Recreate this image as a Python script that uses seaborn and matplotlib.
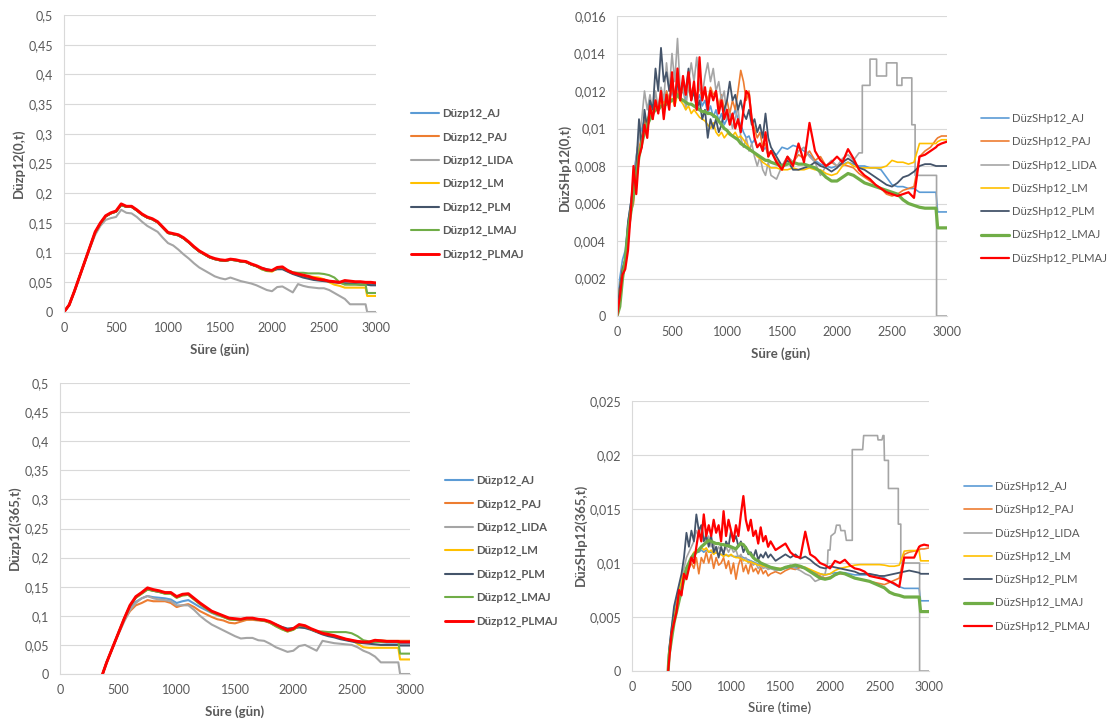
import numpy as np
import matplotlib
matplotlib.use("Agg")
import matplotlib.pyplot as plt
from matplotlib.ticker import FuncFormatter, MultipleLocator
import seaborn as sns

# ---------------- data ----------------
SUFFIXES = ["AJ", "PAJ", "LIDA", "LM", "PLM", "LMAJ", "PLMAJ"]
COLORS = ["#5B9BD5", "#ED7D31", "#A5A5A5", "#FFC000", "#44546A", "#70AD47", "#FF0000"]

# time grids (days)
X_P1 = list(range(0, 2901, 50)) + [2915, 2950, 3000]
X_P2 = list(range(0, 1401, 25)) + list(range(1450, 2901, 50)) + [2915, 2950, 3000]
X_P3 = [365] + list(range(400, 2901, 50)) + [2915, 2950, 3000]
X_P4 = [365, 375] + list(range(400, 1401, 25)) + list(range(1450, 2901, 50)) + [2915, 2950, 3000]

# ---- Panel 1: Düzp12(0,t)
P1_AJ = [0, 0.012, 0.034, 0.06, 0.085, 0.11, 0.134, 0.149, 0.161, 0.166,
         0.169, 0.18, 0.177, 0.177, 0.171, 0.164, 0.159, 0.156, 0.151, 0.142,
         0.133, 0.131, 0.129, 0.124, 0.117, 0.109, 0.102, 0.097, 0.092, 0.089,
         0.087, 0.086, 0.088, 0.087, 0.085, 0.084, 0.08, 0.077, 0.073, 0.07,
         0.069, 0.073, 0.074, 0.069, 0.065, 0.062, 0.06, 0.058, 0.056, 0.054,
         0.053, 0.052, 0.051, 0.05, 0.05, 0.049, 0.049, 0.048, 0.048,
         0.047, 0.047, 0.047]
P1_PAJ = [0, 0.012, 0.035, 0.06, 0.084, 0.109, 0.134, 0.149, 0.161, 0.166,
          0.169, 0.181, 0.177, 0.177, 0.171, 0.164, 0.159, 0.156, 0.151, 0.142,
          0.133, 0.131, 0.129, 0.124, 0.117, 0.109, 0.102, 0.097, 0.092, 0.089,
          0.087, 0.086, 0.088, 0.087, 0.085, 0.084, 0.08, 0.077, 0.073, 0.07,
          0.069, 0.074, 0.075, 0.069, 0.065, 0.063, 0.061, 0.059, 0.056, 0.054,
          0.053, 0.052, 0.051, 0.05, 0.052, 0.051, 0.05, 0.05, 0.049,
          0.049, 0.049, 0.048]
P1_LIDA = [0, 0.012, 0.035, 0.06, 0.085, 0.108, 0.13, 0.145, 0.155, 0.158,
           0.16, 0.172, 0.167, 0.166, 0.16, 0.152, 0.145, 0.14, 0.135, 0.125,
           0.116, 0.112, 0.105, 0.097, 0.09, 0.082, 0.075, 0.07, 0.065, 0.06,
           0.057, 0.055, 0.058, 0.055, 0.052, 0.05, 0.048, 0.045, 0.041, 0.037,
           0.035, 0.042, 0.043, 0.038, 0.033, 0.047, 0.044, 0.042, 0.041, 0.04,
           0.04, 0.037, 0.032, 0.027, 0.022, 0.013, 0.013, 0.013, 0.013,
           0, 0, 0]
P1_LM = [0, 0.012, 0.035, 0.06, 0.085, 0.11, 0.134, 0.149, 0.161, 0.166,
         0.169, 0.18, 0.177, 0.177, 0.171, 0.164, 0.159, 0.156, 0.151, 0.142,
         0.133, 0.131, 0.129, 0.124, 0.117, 0.109, 0.102, 0.097, 0.092, 0.089,
         0.087, 0.086, 0.088, 0.087, 0.085, 0.084, 0.08, 0.077, 0.072, 0.069,
         0.068, 0.073, 0.074, 0.069, 0.065, 0.063, 0.062, 0.06, 0.059, 0.058,
         0.055, 0.05, 0.046, 0.044, 0.041, 0.041, 0.041, 0.041, 0.041,
         0.027, 0.027, 0.027]
P1_PLM = [0, 0.012, 0.035, 0.06, 0.085, 0.11, 0.134, 0.149, 0.161, 0.166,
          0.169, 0.18, 0.177, 0.177, 0.171, 0.164, 0.159, 0.156, 0.151, 0.142,
          0.133, 0.131, 0.129, 0.124, 0.117, 0.109, 0.102, 0.097, 0.092, 0.089,
          0.087, 0.086, 0.088, 0.087, 0.085, 0.084, 0.08, 0.077, 0.074, 0.072,
          0.07, 0.072, 0.072, 0.068, 0.064, 0.061, 0.058, 0.056, 0.054, 0.053,
          0.052, 0.051, 0.05, 0.049, 0.048, 0.047, 0.047, 0.046, 0.046,
          0.046, 0.045, 0.045]
P1_LMAJ = [0, 0.012, 0.035, 0.06, 0.085, 0.11, 0.134, 0.149, 0.161, 0.166,
           0.169, 0.18, 0.177, 0.177, 0.171, 0.164, 0.159, 0.156, 0.151, 0.142,
           0.133, 0.131, 0.129, 0.124, 0.117, 0.109, 0.102, 0.097, 0.092, 0.089,
           0.087, 0.086, 0.088, 0.087, 0.085, 0.084, 0.08, 0.077, 0.072, 0.069,
           0.069, 0.074, 0.075, 0.07, 0.067, 0.066, 0.066, 0.065, 0.065, 0.065,
           0.064, 0.062, 0.058, 0.05, 0.046, 0.046, 0.046, 0.046, 0.046,
           0.032, 0.032, 0.032]
P1_PLMAJ = [0, 0.012, 0.035, 0.06, 0.085, 0.11, 0.135, 0.15, 0.162, 0.167,
            0.17, 0.182, 0.178, 0.178, 0.172, 0.165, 0.16, 0.157, 0.152, 0.143,
            0.134, 0.132, 0.13, 0.125, 0.118, 0.11, 0.103, 0.098, 0.093, 0.09,
            0.088, 0.087, 0.089, 0.088, 0.086, 0.085, 0.081, 0.078, 0.074, 0.071,
            0.07, 0.075, 0.076, 0.07, 0.066, 0.064, 0.062, 0.06, 0.057, 0.055,
            0.054, 0.052, 0.051, 0.05, 0.053, 0.052, 0.051, 0.051, 0.05,
            0.05, 0.05, 0.049]

# ---- Panel 2: DüzSHp12(0,t)  (values in thousandths)
P2_AJ = [0, 2.0, 3.0, 3.5, 5.0, 6.0, 7.5, 8.5,
         9.5, 10.0, 10.5, 10.2, 11.0, 10.8, 11.5, 11.0,
         11.8, 11.2, 12.0, 11.5, 12.0, 11.5, 12.2, 11.8,
         12.0, 11.5, 12.2, 11.6, 12.0, 11.4, 11.8, 11.2,
         11.5, 10.8, 11.2, 10.6, 11.0, 10.4, 10.8, 10.2,
         10.5, 10.8, 10.6, 11.0, 10.5, 10.2, 9.8, 9.5,
         9.6, 9.2, 9.4, 9.0, 9.2, 8.8, 9.0, 8.6,
         8.8,
         8.6, 9.0, 8.9, 9.1, 9.0, 8.8, 8.6, 8.3, 8.1, 8.0,
         7.9, 8.0, 8.1, 8.2, 8.1, 8.0, 8.0, 7.9, 7.9, 7.8,
         7.4, 7.0, 6.9, 6.9, 6.8, 6.8, 6.6, 6.6, 6.6, 6.6,
         5.55, 5.55, 5.55]
P2_PAJ = [0, 1.5, 2.5, 3.0, 4.5, 5.5, 6.0, 7.5,
          9.0, 9.5, 10.5, 10.0, 11.0, 10.5, 11.5, 11.0,
          12.0, 11.2, 12.0, 11.5, 12.2, 11.6, 12.0, 11.5,
          12.3, 11.8, 12.2, 11.5, 12.0, 11.8, 12.2, 11.6,
          12.0, 11.5, 12.2, 11.8, 12.0, 11.2, 11.8, 11.0,
          11.5, 10.8, 11.5, 11.0, 12.0, 13.1, 12.5, 11.5,
          12.0, 10.5, 10.0, 9.5, 9.8, 9.0, 9.2, 8.5,
          8.8,
          8.3, 8.0, 8.5, 8.2, 8.6, 8.4, 8.8, 8.3, 8.5, 8.0,
          8.2, 8.0, 8.1, 8.0, 7.9, 7.6, 7.4, 7.2, 7.0, 6.8,
          6.5, 6.4, 6.5, 6.7, 6.8, 6.9, 8.5, 8.8, 9.0, 9.4,
          9.5, 9.6, 9.6]
P2_LIDA_HEAD = [0, 1.5, 2.5, 3.0, 4.5, 6.0, 7.0, 8.5,
                9.5, 10.5, 12.0, 11.0, 11.8, 10.8, 12.0, 11.0,
                12.2, 11.5, 13.5, 12.0, 14.0, 12.5, 14.8, 12.0,
                12.5, 11.0, 12.5, 13.5, 12.5, 13.8, 12.2, 11.8,
                12.8, 13.5, 12.5, 13.2, 12.0, 12.5, 11.5, 12.0,
                10.5, 10.8, 10.0, 10.5, 11.2, 9.5, 9.0, 9.5,
                8.8, 9.2, 8.5, 8.0, 8.5, 7.8, 7.5, 8.2,
                7.5,
                7.3, 8.0, 8.5, 8.2, 8.8, 9.0, 8.5, 8.2, 7.5, 8.0,
                8.3, 8.0, 8.4, 8.6, 8.3, 8.7]
P2_LIDA_TAIL_X = [2230, 2230, 2300, 2300, 2360, 2360, 2450, 2450, 2545, 2545,
                  2590, 2590, 2680, 2680, 2710, 2710, 2905, 2905, 3000]
P2_LIDA_TAIL = [8.7, 12.3, 12.3, 13.7, 13.7, 12.8, 12.8, 13.5, 13.5, 12.3,
                12.3, 12.7, 12.7, 10.2, 10.2, 7.5, 7.5, 0, 0]
P2_LM = [0, 1.5, 2.5, 3.0, 4.5, 5.5, 6.5, 7.5,
         8.5, 9.5, 10.0, 10.5, 10.8, 11.0, 11.2, 11.0,
         11.5, 11.2, 11.5, 11.3, 11.6, 11.2, 11.8, 11.5,
         11.3, 11.0, 11.2, 10.8, 11.0, 10.8, 10.6, 10.5,
         10.4, 10.2, 10.0, 10.3, 9.8, 9.6, 9.8, 9.5,
         9.7, 9.8, 9.6, 9.8, 9.5, 9.6, 9.4, 9.2,
         9.0, 8.8, 8.7, 8.5, 8.4, 8.2, 8.1, 8.0,
         7.9,
         7.9, 7.8, 7.8, 7.9, 7.8, 7.8, 7.9, 7.8, 7.8, 7.6,
         7.5, 7.6, 8.0, 8.2, 8.0, 7.9, 7.9, 7.9, 7.9, 7.9,
         8.0, 8.3, 8.2, 8.2, 8.1, 8.2, 9.2, 9.2, 9.2, 9.2,
         9.3, 9.4, 9.4]
P2_PLM = [0, 1.5, 2.5, 3.0, 5.0, 6.0, 7.0, 8.0,
          10.5, 9.0, 11.0, 10.0, 11.5, 11.0, 13.2, 12.0,
          14.3, 12.5, 13.0, 12.0, 12.8, 11.5, 12.5, 11.8,
          12.5, 12.0, 13.2, 11.5, 12.0, 11.0, 11.5, 10.5,
          11.0, 9.5, 10.5, 10.0, 10.5, 9.8, 10.2, 11.0,
          11.5, 12.5, 11.5, 11.8, 11.0, 11.5, 10.8, 10.5,
          11.0, 10.2, 10.5, 9.8, 10.2, 9.5, 10.8, 9.5,
          9.0,
          8.5, 8.0, 8.3, 7.8, 7.8, 7.9, 8.0, 8.2, 8.0, 7.9,
          7.7, 7.9, 8.2, 8.4, 8.2, 7.9, 7.8, 7.6, 7.4, 7.2,
          7.0, 6.9, 7.1, 7.4, 7.5, 7.7, 8.0, 8.1, 8.1, 8.0,
          8.0, 8.0, 8.0]
P2_LMAJ = [0, 0.5, 2.0, 3.0, 4.5, 5.5, 6.5, 7.5,
           8.5, 9.2, 9.8, 10.2, 10.5, 10.8, 11.0, 11.0,
           11.2, 11.2, 11.3, 11.4, 11.5, 11.6, 11.8, 11.6,
           11.5, 11.4, 11.3, 11.3, 11.2, 11.1, 11.0, 10.9,
           10.9, 10.8, 10.8, 10.7, 10.6, 10.4, 10.2, 10.0,
           9.9, 9.7, 9.6, 9.5, 9.4, 9.2, 9.1, 9.0,
           8.9, 8.8, 8.7, 8.6, 8.5, 8.4, 8.3, 8.3,
           8.2,
           8.1, 8.0, 8.1, 8.2, 8.1, 8.1, 8.0, 7.9, 7.7, 7.4,
           7.2, 7.2, 7.4, 7.6, 7.5, 7.3, 7.1, 7.0, 6.9, 6.8,
           6.7, 6.6, 6.5, 6.2, 6.0, 5.9, 5.8, 5.75, 5.75, 5.75,
           4.7, 4.7, 4.7]
P2_PLMAJ = [0, 1.0, 2.2, 2.5, 3.5, 5.5, 8.0, 6.5,
            8.5, 9.0, 10.2, 9.5, 11.2, 10.5, 11.5, 10.8,
            12.0, 10.5, 11.8, 11.0, 13.0, 11.2, 13.2, 11.5,
            12.8, 11.8, 13.0, 11.5, 12.5, 11.0, 13.8, 11.5,
            12.2, 11.0, 12.0, 11.5, 12.0, 10.8, 11.5, 10.5,
            11.0, 10.2, 10.8, 10.0, 10.5, 9.8, 11.0, 12.0,
            11.8, 10.5, 9.5, 9.0, 9.2, 8.8, 9.8, 8.5,
            8.8,
            8.2, 7.8, 8.5, 8.0, 9.2, 8.2, 10.3, 8.8, 8.3, 8.0,
            8.2, 8.5, 8.2, 8.9, 8.4, 7.8, 7.5, 7.3, 7.0, 6.8,
            6.6, 6.5, 6.4, 6.5, 6.6, 6.3, 8.5, 8.6, 8.8, 9.0,
            9.1, 9.2, 9.3]

# ---- Panel 3: Düzp12(365,t)
P3_AJ = [0,
         0.02, 0.045, 0.07, 0.093, 0.112, 0.124, 0.13, 0.134, 0.132, 0.131,
         0.13, 0.128, 0.122, 0.125, 0.127, 0.121, 0.115, 0.11, 0.105, 0.101,
         0.098, 0.094, 0.093, 0.093, 0.095, 0.095, 0.093, 0.092, 0.089, 0.084,
         0.079, 0.075, 0.078, 0.083, 0.082, 0.077, 0.073, 0.069, 0.067, 0.065,
         0.062, 0.059, 0.057, 0.056, 0.055, 0.054, 0.055, 0.055, 0.054, 0.054,
         0.054,
         0.053, 0.053, 0.053]
P3_PAJ = [0,
          0.02, 0.045, 0.07, 0.092, 0.108, 0.118, 0.122, 0.127, 0.125, 0.125,
          0.125, 0.122, 0.115, 0.118, 0.12, 0.115, 0.108, 0.103, 0.098, 0.094,
          0.092, 0.088, 0.087, 0.09, 0.093, 0.093, 0.092, 0.091, 0.088, 0.083,
          0.078, 0.074, 0.077, 0.082, 0.081, 0.077, 0.073, 0.069, 0.067, 0.065,
          0.062, 0.059, 0.057, 0.056, 0.055, 0.055, 0.058, 0.058, 0.057, 0.057,
          0.057,
          0.057, 0.057, 0.057]
P3_LIDA = [0,
           0.02, 0.045, 0.068, 0.09, 0.11, 0.122, 0.13, 0.134, 0.13, 0.128,
           0.127, 0.125, 0.118, 0.118, 0.118, 0.11, 0.1, 0.092, 0.085, 0.08,
           0.075, 0.07, 0.065, 0.061, 0.062, 0.062, 0.058, 0.057, 0.052, 0.046,
           0.042, 0.038, 0.04, 0.048, 0.05, 0.045, 0.04, 0.057, 0.055, 0.053,
           0.052, 0.051, 0.05, 0.046, 0.04, 0.036, 0.03, 0.02, 0.02, 0.02,
           0.02,
           0, 0, 0]
P3_LM = [0,
         0.02, 0.045, 0.07, 0.095, 0.117, 0.131, 0.138, 0.145, 0.143, 0.141,
         0.138, 0.138, 0.131, 0.135, 0.136, 0.128, 0.12, 0.113, 0.106, 0.102,
         0.098, 0.094, 0.093, 0.093, 0.095, 0.095, 0.093, 0.092, 0.088, 0.082,
         0.077, 0.073, 0.076, 0.083, 0.082, 0.077, 0.073, 0.07, 0.068, 0.065,
         0.062, 0.06, 0.058, 0.052, 0.046, 0.045, 0.045, 0.045, 0.045, 0.045,
         0.045,
         0.025, 0.025, 0.025]
P3_PLM = [0,
          0.02, 0.045, 0.07, 0.095, 0.117, 0.132, 0.139, 0.146, 0.143, 0.141,
          0.139, 0.139, 0.132, 0.136, 0.137, 0.129, 0.121, 0.114, 0.107, 0.103,
          0.099, 0.095, 0.094, 0.094, 0.096, 0.095, 0.093, 0.092, 0.089, 0.085,
          0.081, 0.078, 0.079, 0.08, 0.079, 0.076, 0.072, 0.068, 0.065, 0.063,
          0.06, 0.058, 0.056, 0.054, 0.053, 0.052, 0.051, 0.05, 0.05, 0.05,
          0.05,
          0.049, 0.049, 0.049]
P3_LMAJ = [0,
           0.02, 0.045, 0.07, 0.095, 0.117, 0.131, 0.138, 0.145, 0.143, 0.141,
           0.138, 0.138, 0.131, 0.135, 0.136, 0.128, 0.12, 0.113, 0.106, 0.102,
           0.098, 0.094, 0.093, 0.093, 0.095, 0.095, 0.093, 0.092, 0.088, 0.082,
           0.077, 0.073, 0.076, 0.083, 0.082, 0.077, 0.073, 0.073, 0.072, 0.072,
           0.072, 0.072, 0.07, 0.065, 0.058, 0.056, 0.055, 0.055, 0.055, 0.055,
           0.055,
           0.035, 0.035, 0.035]
P3_PLMAJ = [0,
            0.02, 0.045, 0.07, 0.095, 0.118, 0.133, 0.14, 0.148, 0.145, 0.143,
            0.14, 0.14, 0.133, 0.137, 0.138, 0.13, 0.122, 0.115, 0.108, 0.104,
            0.1, 0.096, 0.095, 0.094, 0.096, 0.096, 0.094, 0.093, 0.09, 0.085,
            0.08, 0.075, 0.078, 0.085, 0.083, 0.078, 0.074, 0.07, 0.068, 0.066,
            0.063, 0.06, 0.058, 0.056, 0.055, 0.055, 0.058, 0.057, 0.056, 0.056,
            0.056,
            0.055, 0.055, 0.055]

# ---- Panel 4: DüzSHp12(365,t)  (values in thousandths)
P4_AJ = [0, 2.0,
         4.0, 5.5, 6.5, 7.5, 8.5, 9.0, 9.5, 10.0,
         10.5, 10.5, 11.0, 11.0, 11.2, 11.0, 11.2, 11.0,
         11.0, 10.9, 11.0, 10.8, 10.8, 10.8, 10.7, 10.7,
         10.7, 10.6, 10.6, 10.6, 10.6, 10.5, 10.4, 10.3,
         10.2, 10.1, 10.0, 9.9, 9.8, 9.7, 9.6, 9.5,
         9.5,
         9.4, 9.4, 9.5, 9.6, 9.6, 9.6, 9.5, 9.3, 9.1, 9.0,
         8.9, 9.0, 9.1, 9.1, 9.1, 9.0, 8.9, 8.9, 8.9, 8.9,
         8.9, 8.8, 8.6, 8.3, 8.0, 7.8, 7.65, 7.65, 7.65, 7.65,
         6.5, 6.5, 6.5]
P4_PAJ = [0, 1.5,
          3.5, 5.0, 6.0, 7.5, 8.0, 8.5, 9.0, 9.5,
          10.0, 9.5, 10.5, 9.0, 10.5, 10.0, 11.0, 10.0,
          10.8, 9.5, 10.5, 9.8, 10.0, 10.5, 9.5, 10.2,
          9.0, 10.0, 8.5, 9.8, 10.5, 9.2, 9.8, 9.0,
          10.0, 9.2, 9.5, 9.0, 9.6, 9.0, 9.3, 8.8,
          9.0,
          9.2, 9.0, 9.3, 9.5, 9.4, 9.6, 9.5, 9.2, 9.0, 8.8,
          8.6, 8.7, 8.9, 9.0, 9.0, 8.8, 8.6, 8.5, 8.4, 8.3,
          8.2, 8.1, 8.0, 8.2, 8.4, 8.6, 10.8, 11.0, 11.1, 11.2,
          11.3, 11.3, 11.4]
P4_LIDA_HEAD = [0, 1.5,
                3.5, 5.0, 6.0, 7.5, 8.5, 9.5, 10.5, 11.0,
                11.5, 12.0, 13.0, 12.5, 13.5, 12.5, 12.0, 12.5,
                11.5, 11.8, 11.0, 11.5, 11.2, 11.0, 11.5, 11.0,
                11.5, 11.0, 11.2, 10.5, 10.8, 10.2, 10.5, 10.0,
                10.2, 9.8, 10.0, 9.5, 9.8, 9.5, 9.6, 9.4,
                9.5,
                9.3, 9.4, 9.6, 9.8, 9.5, 9.3, 9.0, 8.8, 8.3, 8.5,
                9.0]
P4_LIDA_TAIL_X = [1975, 1980, 2000, 2010, 2050, 2065, 2100, 2110, 2150, 2165,
                  2225, 2225, 2330, 2340, 2480, 2485, 2525, 2535, 2545, 2550,
                  2590, 2590, 2690, 2690, 2715, 2715, 2905, 2905, 3000]
P4_LIDA_TAIL = [10.0, 11.2, 11.2, 12.5, 12.8, 13.5, 13.5, 13.0, 13.0, 12.1,
                12.1, 20.5, 20.5, 21.8, 21.8, 21.4, 21.4, 21.8, 21.8, 19.5,
                19.5, 16.9, 16.9, 13.6, 13.6, 10.0, 10.0, 0, 0]
P4_LM = [0, 1.5,
         3.5, 5.0, 6.0, 7.5, 8.5, 9.0, 9.5, 10.0,
         10.5, 11.0, 11.0, 11.3, 11.5, 11.2, 11.4, 11.0,
         11.2, 10.8, 11.0, 10.8, 10.8, 10.6, 10.8, 10.6,
         10.8, 10.6, 10.5, 10.5, 10.4, 10.3, 10.2, 10.1,
         10.1, 10.0, 9.9, 9.8, 9.8, 9.7, 9.7, 9.6,
         9.6,
         9.5, 9.5, 9.6, 9.7, 9.8, 9.7, 9.6, 9.4, 9.2, 9.0,
         8.9, 9.0, 9.3, 9.5, 9.6, 9.7, 9.8, 9.85, 9.85, 9.85,
         9.85, 9.85, 9.8, 9.7, 9.7, 9.8, 11.1, 11.15, 11.15, 11.15,
         10.2, 10.2, 10.2]
P4_PLM = [0, 2.0,
          4.0, 6.0, 7.0, 8.0, 9.0, 10.5, 12.8, 11.5,
          13.0, 12.0, 14.5, 13.0, 13.5, 12.0, 12.5, 11.5,
          12.5, 11.0, 11.5, 10.5, 11.5, 10.8, 12.0, 11.5,
          13.0, 12.0, 12.5, 11.5, 12.0, 11.0, 11.5, 10.8,
          11.0, 10.5, 11.2, 10.3, 10.8, 10.5, 11.0, 10.5,
          10.8,
          10.2, 10.5, 10.8, 10.5, 10.8, 10.4, 10.6, 10.3, 9.9, 9.6,
          9.5, 9.7, 9.6, 9.5, 9.4, 9.3, 9.2, 9.0, 9.0, 9.0,
          8.9, 8.8, 8.8, 8.9, 9.0, 9.1, 9.2, 9.3, 9.2, 9.1,
          9.0, 9.0, 9.0]
P4_LMAJ = [0, 1.5,
           3.0, 4.5, 5.5, 6.5, 7.5, 8.5, 9.5, 10.0,
           10.5, 10.8, 11.0, 11.2, 11.5, 11.7, 11.9, 12.1,
           12.0, 11.9, 11.8, 11.8, 11.7, 11.7, 11.6, 11.6,
           11.5, 11.4, 11.3, 11.6, 11.8, 11.7, 11.4, 11.0,
           10.8, 10.5, 10.3, 10.2, 10.0, 9.9, 9.8, 9.7,
           9.6,
           9.5, 9.4, 9.6, 9.7, 9.8, 9.7, 9.5, 9.2, 8.9, 8.6,
           8.5, 8.6, 8.9, 9.1, 9.0, 8.8, 8.6, 8.5, 8.4, 8.3,
           8.1, 7.9, 7.7, 7.3, 7.1, 7.0, 6.85, 6.85, 6.85, 6.85,
           5.5, 5.5, 5.5]
P4_PLMAJ = [0, 1.0,
            3.5, 4.5, 5.5, 7.5, 7.0, 9.0, 8.5, 9.5,
            10.5, 10.0, 11.5, 13.0, 12.0, 14.5, 12.5, 13.5,
            12.5, 14.0, 12.8, 13.5, 12.0, 14.8, 12.5, 14.0,
            13.0, 12.0, 13.5, 12.5, 14.5, 16.2, 14.0, 13.0,
            14.0, 12.5, 13.0, 11.8, 13.3, 12.0, 12.5, 11.5,
            12.0,
            11.2, 11.5, 11.8, 11.0, 10.6, 10.5, 12.9, 10.8, 10.5, 10.0,
            9.8, 9.5, 10.2, 10.0, 10.3, 9.8, 9.5, 9.4, 9.2, 8.8,
            8.7, 8.6, 8.5, 8.3, 8.1, 7.8, 10.5, 10.5, 10.5, 11.5,
            11.6, 11.7, 11.6]

# ---------------- style ----------------
sns.set_theme(style="white")
plt.rcParams["font.family"] = ["Lato", "DejaVu Sans"]
TXT = "#595959"
GRID = "#D9D9D9"
LEG_FS = 8.2

fig = plt.figure(figsize=(11.11, 7.22), dpi=100)
fig.patch.set_facecolor("white")
W, H = 1111.0, 722.0


def fx(px):
    return px / W


def fy(py):
    return 1 - py / H


def comma_fmt(v, pos):
    return f"{v:.6g}".replace(".", ",")


def make_panel(rect, xs_list, ys_list, scale, ymax, ystep, prefix, widths,
               ylab, ylab_xy, xlab, xlab_xy, leg_xy, leg_bold, xlab_weight="bold"):
    ax = fig.add_axes(rect)
    ax.set_facecolor("white")
    for xs, ys, c, lw, suf in zip(xs_list, ys_list, COLORS, widths, SUFFIXES):
        yv = np.asarray(ys, dtype=float) * scale
        sns.lineplot(x=np.asarray(xs, dtype=float), y=yv, ax=ax, color=c,
                     linewidth=lw, label=prefix + suf, estimator=None,
                     sort=False, legend=False)
    ax.set_xlim(0, 3000)
    ax.set_ylim(0, ymax)
    ax.xaxis.set_major_locator(MultipleLocator(500))
    ax.yaxis.set_major_locator(MultipleLocator(ystep))
    ax.yaxis.set_major_formatter(FuncFormatter(comma_fmt))
    ax.xaxis.set_major_formatter(FuncFormatter(comma_fmt))
    ax.grid(axis="y", color=GRID, linewidth=0.8)
    ax.grid(axis="x", visible=False)
    ax.set_axisbelow(True)
    for s in ["top", "right"]:
        ax.spines[s].set_visible(False)
    for s in ["left", "bottom"]:
        ax.spines[s].set_color(GRID)
        ax.spines[s].set_linewidth(0.8)
    ax.tick_params(axis="both", length=0, colors=TXT, labelsize=9)
    ax.tick_params(axis="y", pad=8)
    ax.tick_params(axis="x", pad=7)
    ax.set_xlabel("")
    ax.set_ylabel("")
    fig.text(fx(ylab_xy[0]), fy(ylab_xy[1]), ylab, rotation=90, ha="center",
             va="center", fontsize=9.5, fontweight="bold", color=TXT)
    fig.text(fx(xlab_xy[0]), fy(xlab_xy[1]), xlab, ha="center", va="center",
             fontsize=9.5, fontweight=xlab_weight, color=TXT)
    handles, labels = ax.get_legend_handles_labels()
    leg = ax.legend(handles, labels, loc="upper left",
                    bbox_to_anchor=(fx(leg_xy[0]), fy(leg_xy[1])),
                    bbox_transform=fig.transFigure, frameon=False,
                    fontsize=LEG_FS, handlelength=2.45, handletextpad=0.26,
                    labelspacing=1.08, borderpad=0, borderaxespad=0)
    for t in leg.get_texts():
        t.set_color(TXT)
        if leg_bold:
            t.set_fontweight("bold")
    return ax


X2_LIDA = [x for x in X_P2 if x <= 2200] + P2_LIDA_TAIL_X
Y2_LIDA = P2_LIDA_HEAD + P2_LIDA_TAIL
X4_LIDA = [x for x in X_P4 if x <= 1950] + P4_LIDA_TAIL_X
Y4_LIDA = P4_LIDA_HEAD + P4_LIDA_TAIL

# Panel 1
make_panel([fx(64), fy(312), fx(376 - 64), (312 - 15) / H],
           [X_P1] * 7,
           [P1_AJ, P1_PAJ, P1_LIDA, P1_LM, P1_PLM, P1_LMAJ, P1_PLMAJ],
           1.0, 0.5, 0.05, "Düzp12_", [1.5, 1.5, 1.5, 1.5, 1.5, 1.5, 2.1],
           "Düzp12(0,t)", (19, 163), "Süre (gün)", (220, 350),
           (411, 108), True)

# Panel 2
make_panel([fx(617), fy(316), fx(947 - 617), (316 - 16) / H],
           [X_P2, X_P2, X2_LIDA, X_P2, X_P2, X_P2, X_P2],
           [P2_AJ, P2_PAJ, Y2_LIDA, P2_LM, P2_PLM, P2_LMAJ, P2_PLMAJ],
           1e-3, 0.016, 0.002, "DüzSHp12_", [1.2, 1.2, 1.2, 1.2, 1.3, 2.3, 1.6],
           "DüzSHp12(0,t)", (565, 167), "Süre (gün)", (781, 354),
           (981, 113), False)

# Panel 3
make_panel([fx(60), fy(674), fx(410 - 60), (674 - 383) / H],
           [X_P3] * 7,
           [P3_AJ, P3_PAJ, P3_LIDA, P3_LM, P3_PLM, P3_LMAJ, P3_PLMAJ],
           1.0, 0.5, 0.05, "Düzp12_", [1.5, 1.5, 1.5, 1.5, 1.5, 1.5, 2.1],
           "Düzp12(365,t)", (15, 528), "Süre (gün)", (235, 712),
           (445, 475), True)

# Panel 4
make_panel([fx(632), fy(671), fx(929 - 632), (671 - 401) / H],
           [X_P4, X_P4, X4_LIDA, X_P4, X_P4, X_P4, X_P4],
           [P4_AJ, P4_PAJ, Y4_LIDA, P4_LM, P4_PLM, P4_LMAJ, P4_PLMAJ],
           1e-3, 0.025, 0.005, "DüzSHp12_", [1.2, 1.2, 1.2, 1.2, 1.3, 2.3, 1.6],
           "DüzSHp12(365,t)", (581, 535), "Süre (time)", (780, 708),
           (964, 481), False, xlab_weight="semibold")

fig.savefig("out.png", dpi=100, facecolor="white")
